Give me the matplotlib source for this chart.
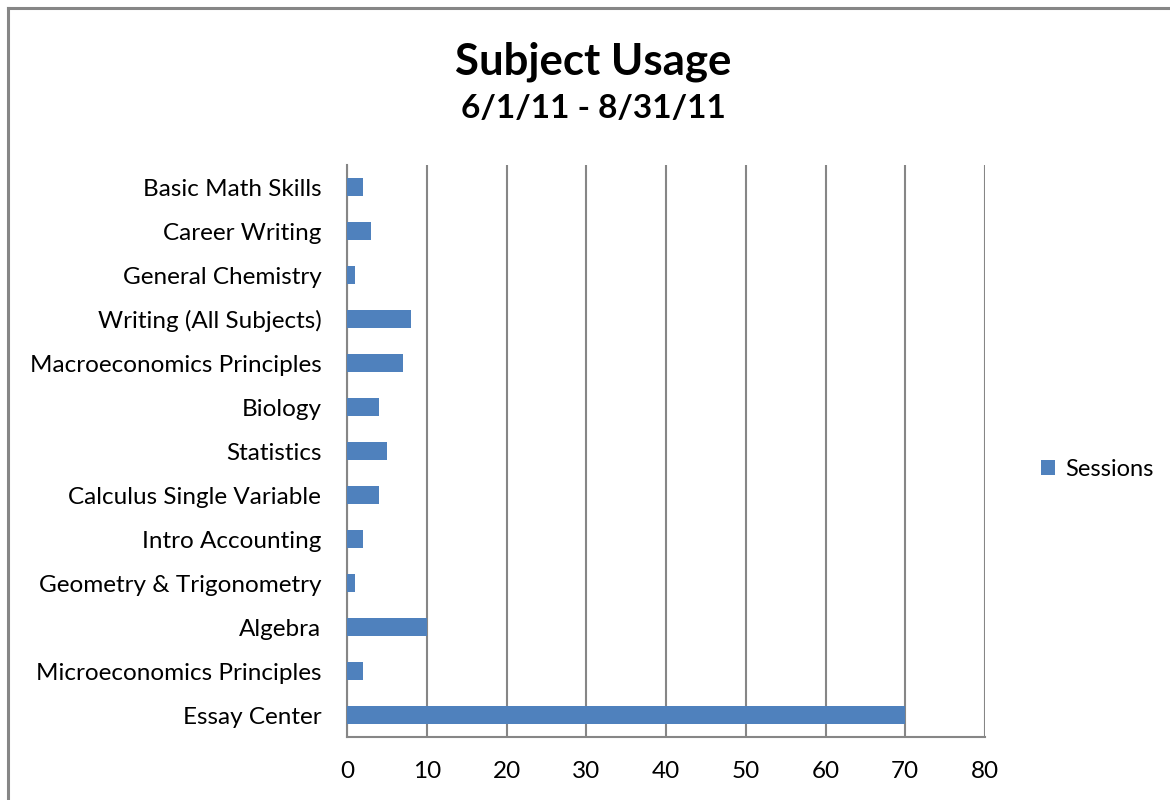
import matplotlib
matplotlib.use("Agg")
import matplotlib.pyplot as plt
from matplotlib.lines import Line2D

categories = ["Basic Math Skills", "Career Writing", "General Chemistry",
              "Writing (All Subjects)", "Macroeconomics Principles", "Biology",
              "Statistics", "Calculus Single Variable", "Intro Accounting",
              "Geometry & Trigonometry", "Algebra", "Microeconomics Principles",
              "Essay Center"]
sessions = [2, 3, 1, 8, 7, 4, 5, 4, 2, 1, 10, 2, 70]
xticks = [0, 10, 20, 30, 40, 50, 60, 70, 80]

plt.rcParams['font.family'] = ['Lato', 'DejaVu Sans']

fig = plt.figure(figsize=(11.7, 8), dpi=100)
ax = fig.add_axes([347/1170, 63/800, 638/1170, 572/800])

ypos = list(range(len(categories)))[::-1]
bars = ax.barh(ypos, sessions, height=0.4, color="#4F81BD", label="Sessions", zorder=3)

ax.set_xlim(0, 80)
ax.set_ylim(-0.5, len(categories) - 0.5)
ax.set_xticks(xticks)
ax.set_xticklabels([str(t) for t in xticks])
ax.set_yticks(ypos)
ax.set_yticklabels(categories)
ax.tick_params(axis='both', length=0, labelsize=17.5, colors='black')
ax.tick_params(axis='x', pad=17)
ax.tick_params(axis='y', pad=18.5)
ax.xaxis.grid(True, color="#868686", linewidth=1.5, zorder=0)
ax.set_axisbelow(True)
for s in ['top', 'right']:
    ax.spines[s].set_visible(False)
for s in ['left', 'bottom']:
    ax.spines[s].set_color("#868686")
    ax.spines[s].set_linewidth(1.5)

fig.text(593/1170, 1 - 62/800, "Subject Usage", ha='center', va='center',
         fontsize=31.5, fontweight='bold')
fig.text(593/1170, 1 - 108/800, "6/1/11 - 8/31/11", ha='center', va='center',
         fontsize=24, fontweight='bold')

leg = fig.legend(handles=[bars], labels=["Sessions"], loc='center left',
                 bbox_to_anchor=(1020/1170, 1 - 469/800), frameon=False,
                 fontsize=17, handlelength=0.6, handleheight=0.6, handletextpad=0.4)

fig.add_artist(Line2D([8/1170, 8/1170], [0, 1 - 7.5/800], color="#868686", linewidth=2.2))
fig.add_artist(Line2D([8/1170, 1], [1 - 7.5/800, 1 - 7.5/800], color="#868686", linewidth=2.2))

fig.savefig("out.png", dpi=100, facecolor="white")
